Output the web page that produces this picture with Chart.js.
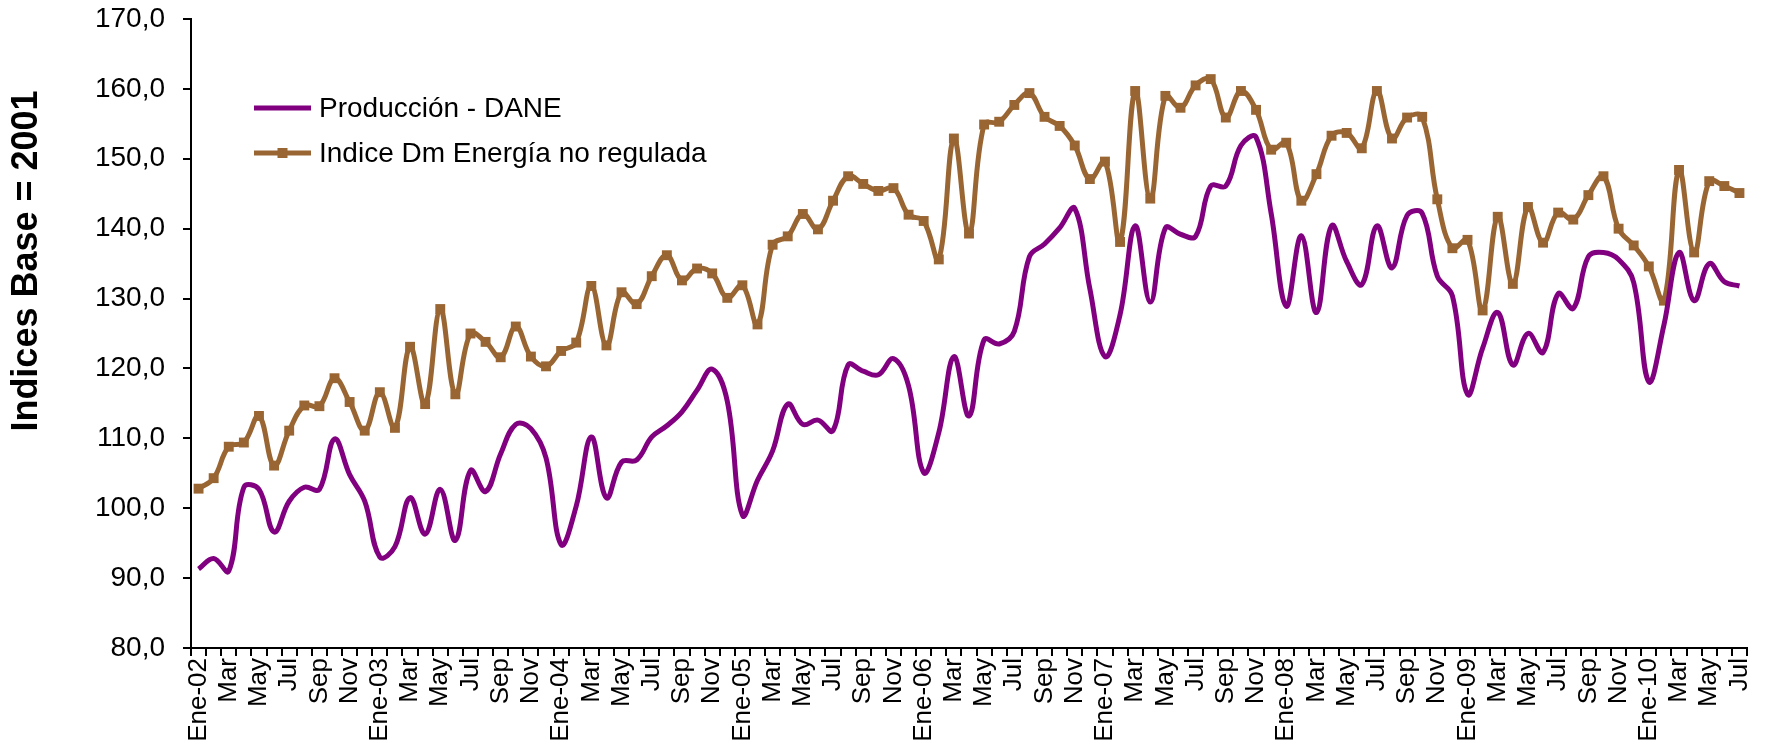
<!DOCTYPE html>
<html lang="es">
<head>
<meta charset="utf-8">
<title>Producción DANE vs Índice Dm Energía no regulada</title>
<script src="https://cdn.jsdelivr.net/npm/chart.js@4.4.1/dist/chart.umd.min.js"></script>
<style>
  html, body { margin: 0; padding: 0; background: #fff; }
  canvas { display: block; }
</style>
</head>
<body>
<canvas id="graficoIndices" width="1766" height="748"></canvas>
<script>
// Meses y años de la serie (Ene-02 a Jul-10)
const meses = ['Ene', 'Feb', 'Mar', 'Abr', 'May', 'Jun', 'Jul', 'Ago', 'Sep', 'Oct', 'Nov', 'Dic'];
const anios = ['02', '03', '04', '05', '06', '07', '08', '09', '10'];
const mesesUltimoAnio = 7;

// Índice de producción - DANE
const produccion = [
  91.3, 92.8, 91.0, 103.0, 102.7, 96.6, 101.0, 103.0, 102.7, 109.9, 104.8, 101.0,
  93.0, 94.5, 101.5, 96.3, 102.7, 95.4, 105.4, 102.4, 107.8, 112.0, 111.4, 107.2,
  94.8, 100.3, 110.2, 101.5, 106.6, 106.9, 110.2, 111.8, 113.8, 116.9, 119.9, 115.3,
  99.0, 104.0, 108.2, 114.9, 112.0, 112.6, 111.1, 120.5, 119.6, 119.1, 121.4, 117.5,
  105.1, 110.8, 121.7, 113.2, 124.1, 123.5, 125.3, 136.0, 137.8, 140.1, 142.9, 131.4,
  121.7, 127.7, 140.4, 129.5, 140.1, 139.2, 138.9, 146.1, 146.1, 151.9, 153.1, 142.2,
  128.9, 139.0, 128.0, 140.4, 135.3, 132.0, 140.4, 134.4, 141.9, 142.2, 133.2, 130.4,
  116.3, 122.9, 128.0, 120.5, 125.0, 122.3, 130.7, 128.6, 136.0, 136.6, 135.6, 132.3,
  118.1, 126.2, 136.6, 129.7, 135.0, 132.4, 131.8
];

// Índice Dm de energía no regulada
const energiaNoRegulada = [
  102.8, 104.3, 108.8, 109.4, 113.2, 106.1, 111.1, 114.7, 114.6, 118.6, 115.2, 111.1,
  116.6, 111.5, 123.1, 114.9, 128.5, 116.3, 125.0, 123.8, 121.6, 126.0, 121.7, 120.3,
  122.5, 123.7, 131.8, 123.3, 130.9, 129.2, 133.2, 136.2, 132.6, 134.3, 133.6, 130.1,
  131.9, 126.3, 137.7, 138.9, 142.1, 139.9, 144.0, 147.5, 146.4, 145.4, 145.8, 142.0,
  141.1, 135.6, 152.9, 139.3, 154.9, 155.3, 157.7, 159.4, 156.0, 154.7, 151.9, 147.1,
  149.6, 138.1, 159.7, 144.3, 159.0, 157.3, 160.5, 161.4, 155.9, 159.7, 157.0, 151.3,
  152.3, 144.0, 147.8, 153.3, 153.7, 151.5, 159.7, 152.9, 155.9, 156.0, 144.2, 137.2,
  138.4, 128.3, 141.7, 132.1, 143.1, 138.0, 142.3, 141.3, 144.8, 147.5, 140.0, 137.6,
  134.6, 129.7, 148.4, 136.6, 146.8, 146.1, 145.1
];

const nombresSeries = ['Producción - DANE', 'Indice Dm Energía no regulada'];
const tituloEjeY = 'Indices Base = 2001';
const ejeYMin = 80;
const ejeYMax = 170;
const ejeYPaso = 10;

const colorProduccion = '#800080';
const colorEnergia = '#996633';
const fuente = '"Liberation Sans", Arial, sans-serif';

// Etiquetas de categoría: el primer mes de cada año lleva el año
function construirEtiquetas() {
  const etiquetas = [];
  anios.forEach((anio, k) => {
    const n = k === anios.length - 1 ? mesesUltimoAnio : 12;
    for (let m = 0; m < n; m++) {
      etiquetas.push(m === 0 ? `${meses[m]}-${anio}` : meses[m]);
    }
  });
  return etiquetas;
}

// Leyenda dibujada dentro del área del gráfico, arriba a la izquierda
const leyendaInterna = {
  id: 'leyendaInterna',
  afterDraw(chart) {
    const ctx = chart.ctx;
    const x0 = 254, largo = 57, filas = [108, 153];
    ctx.save();
    ctx.font = `28px ${fuente}`;
    ctx.textBaseline = 'middle';
    chart.data.datasets.forEach((ds, i) => {
      const y = filas[i];
      ctx.strokeStyle = ds.borderColor;
      ctx.lineWidth = ds.borderWidth;
      ctx.beginPath();
      ctx.moveTo(x0, y);
      ctx.lineTo(x0 + largo, y);
      ctx.stroke();
      if (ds.pointRadius > 0) {
        ctx.fillStyle = ds.pointBackgroundColor;
        ctx.fillRect(x0 + largo / 2 - 5, y - 5, 10, 10);
      }
      ctx.fillStyle = '#000';
      ctx.fillText(ds.label, x0 + largo + 8, y + 1);
    });
    ctx.restore();
  }
};

// Título vertical del eje Y
const tituloVertical = {
  id: 'tituloVertical',
  afterDraw(chart) {
    const ctx = chart.ctx;
    ctx.save();
    ctx.translate(27, 261);
    ctx.rotate(-Math.PI / 2);
    ctx.font = `bold 36px ${fuente}`;
    ctx.textAlign = 'center';
    ctx.textBaseline = 'middle';
    ctx.fillStyle = '#000';
    ctx.fillText(tituloEjeY, 0, 0);
    ctx.restore();
  }
};

let grafico = null;

function generarGrafico() {
  const ctx = document.getElementById('graficoIndices').getContext('2d');
  if (grafico instanceof Chart) grafico.destroy();

  grafico = new Chart(ctx, {
    type: 'line',
    data: {
      labels: construirEtiquetas(),
      datasets: [
        {
          label: nombresSeries[0],
          data: produccion,
          borderColor: colorProduccion,
          borderWidth: 5,
          pointRadius: 0,
          tension: 0.4
        },
        {
          label: nombresSeries[1],
          data: energiaNoRegulada,
          borderColor: colorEnergia,
          borderWidth: 5,
          pointStyle: 'rect',
          pointRadius: 7,
          pointBackgroundColor: colorEnergia,
          pointBorderWidth: 0,
          tension: 0.4
        }
      ]
    },
    options: {
      responsive: false,
      animation: false,
      devicePixelRatio: 1,
      layout: { padding: { top: 19, right: 19, left: 0, bottom: 0 } },
      plugins: {
        legend: { display: false },
        tooltip: { enabled: false }
      },
      scales: {
        x: {
          offset: true,
          border: { color: '#000', width: 2 },
          grid: { offset: true, drawOnChartArea: false, color: '#000', lineWidth: 2, tickLength: 8 },
          ticks: {
            autoSkip: false,
            maxRotation: 90,
            minRotation: 90,
            padding: 2,
            color: '#000',
            font: { family: fuente, size: 26 },
            callback(valor, indice) {
              return indice % 2 === 0 ? this.getLabelForValue(valor) : '';
            }
          },
          afterFit(escala) {
            escala.height = 100;
            escala.paddingLeft = 0;
            escala.paddingRight = 0;
          }
        },
        y: {
          min: ejeYMin,
          max: ejeYMax,
          border: { color: '#000', width: 2 },
          grid: { drawOnChartArea: false, color: '#000', lineWidth: 2, tickLength: 8 },
          ticks: {
            stepSize: ejeYPaso,
            padding: 18,
            color: '#000',
            font: { family: fuente, size: 28 },
            callback: (valor) => valor.toFixed(1).replace('.', ',')
          },
          afterFit(escala) {
            escala.width = 191;
            escala.paddingTop = 0;
            escala.paddingBottom = 0;
          }
        }
      }
    },
    plugins: [leyendaInterna, tituloVertical]
  });
}

generarGrafico();
</script>
</body>
</html>
